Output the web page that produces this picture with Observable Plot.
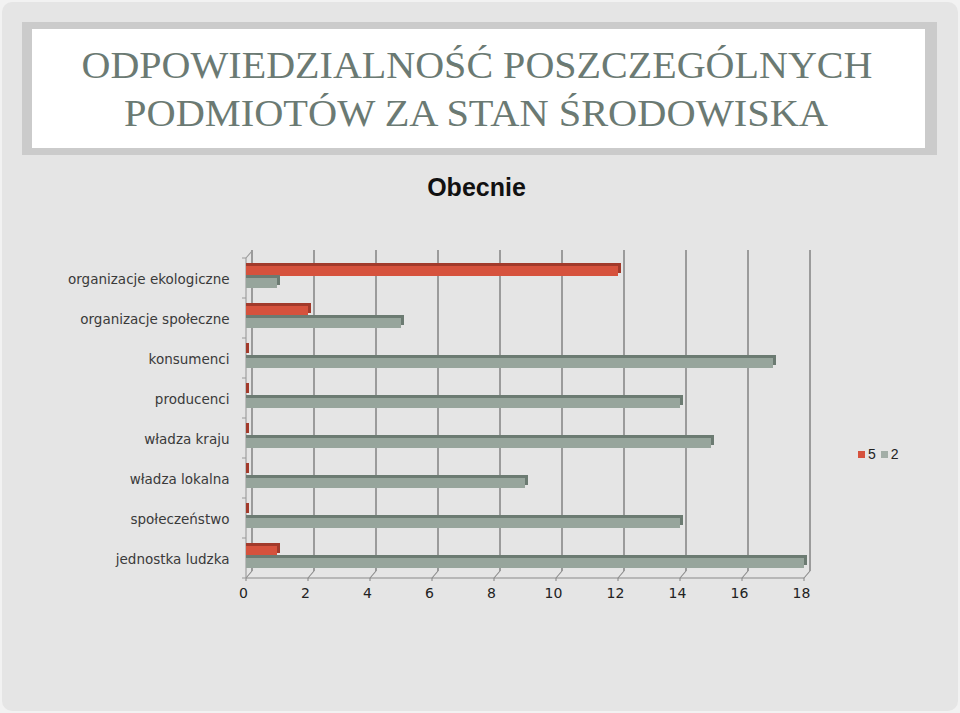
<!DOCTYPE html>
<html><head><meta charset="utf-8">
<script src="https://cdn.jsdelivr.net/npm/d3@7"></script>
<script src="https://cdn.jsdelivr.net/npm/@observablehq/plot@0.6"></script>
<style>
html,body{margin:0;padding:0;background:#f2f2f2;width:960px;height:713px;overflow:hidden}
#page{position:absolute;left:2px;top:2px;width:956px;height:709px;background:#e5e5e5;border-radius:10px}
#frame{position:absolute;left:22px;top:22px;width:915px;height:133px;background:#cbcbcb}
#inner{position:absolute;left:32px;top:29px;width:893px;height:119px;background:#fff}
#title{position:absolute;left:0;top:0}
#sub{position:absolute;left:0;width:953px;top:173px;text-align:center;font:bold 25px "Liberation Sans",Arial,sans-serif;color:#111}
#chart{position:absolute;left:0;top:240px}
#legend{position:absolute;left:858px;top:446px;font:14px "Liberation Sans",Arial,sans-serif;color:#222;display:flex;align-items:center;white-space:nowrap}
#legend .sw{display:inline-block;width:7px;height:7px;margin-right:3px}
#legend .it{display:flex;align-items:center;margin-right:5px}
</style></head>
<body>
<div id="page"></div>
<div id="frame"></div>
<div id="inner"></div>
<svg id="title" width="960" height="160">
  <text x="477" y="78" text-anchor="middle" textLength="791" lengthAdjust="spacingAndGlyphs" font-family="Liberation Serif" font-size="38" fill="#6b7a73">ODPOWIEDZIALNOŚĆ POSZCZEGÓLNYCH</text>
  <text x="476" y="126" text-anchor="middle" textLength="704" lengthAdjust="spacingAndGlyphs" font-family="Liberation Serif" font-size="38" fill="#6b7a73">PODMIOTÓW ZA STAN ŚRODOWISKA</text>
</svg>
<div id="sub">Obecnie</div>
<div id="chart"></div>
<div id="legend"></div>
<script>
const categories = ["organizacje ekologiczne","organizacje społeczne","konsumenci","producenci","władza kraju","władza lokalna","społeczeństwo","jednostka ludzka"];
const seriesNames = ["5","2"];
const redValues = [12,2,0,0,0,0,0,1];
const greyValues = [1,5,17,14,15,9,14,18];
const xTicks = [0,2,4,6,8,10,12,14,16,18];
const colors = {"5":"#d6523d","2":"#97a59c"};
const shades = {"5":"#a23a2b","2":"#6c7b72"};

const rows = [];
categories.forEach((c,i)=>{
  rows.push({cat:c, series:seriesNames[0], value:redValues[i]});
  rows.push({cat:c, series:seriesNames[1], value:greyValues[i]});
});
const red = rows.filter(d=>d.series===seriesNames[0]);
const grey = rows.filter(d=>d.series===seriesNames[1]);

const OX = 6, OY = -7;
function frame3d(index, scales, values, dims) {
  const x = scales.x;
  const top = dims.marginTop, bottom = dims.height - dims.marginBottom;
  const g = d3.create("svg:g").attr("fill","none");
  const x0 = x(0);
  for (const t of xTicks) {
    g.append("line").attr("x1",x(t)+OX).attr("x2",x(t)+OX).attr("y1",top+OY-1).attr("y2",bottom+OY)
      .attr("stroke","#7c7c7c").attr("stroke-width",1.4);
    g.append("line").attr("x1",x(t)).attr("x2",x(t)+OX).attr("y1",bottom).attr("y2",bottom+OY)
      .attr("stroke","#8a8a8a").attr("stroke-width",1.1);
    g.append("line").attr("x1",x(t)).attr("x2",x(t)).attr("y1",bottom).attr("y2",bottom+3)
      .attr("stroke","#8a8a8a").attr("stroke-width",1.1);
  }
  g.append("line").attr("x1",x0).attr("x2",x(18)).attr("y1",bottom).attr("y2",bottom)
    .attr("stroke","#8a8a8a").attr("stroke-width",1.1);
  g.append("line").attr("x1",x0).attr("x2",x0).attr("y1",top).attr("y2",bottom)
    .attr("stroke","#999").attr("stroke-width",1.1);
  g.append("line").attr("x1",x0).attr("x2",x0+OX).attr("y1",top).attr("y2",top+OY)
    .attr("stroke","#999").attr("stroke-width",1.1);
  const bw = (bottom-top)/categories.length;
  for (let i=0;i<=categories.length;i++){
    g.append("line").attr("x1",x0-4).attr("x2",x0).attr("y1",top+i*bw).attr("y2",top+i*bw)
      .attr("stroke","#999").attr("stroke-width",1);
  }
  return g.node();
}

const plot = Plot.plot({
  width: 960, height: 372,
  marginLeft: 246, marginRight: 156, marginTop: 18, marginBottom: 34,
  style: {background:"transparent", fontFamily:"DejaVu Sans", fontSize:"13px", color:"#333"},
  x: {domain:[0,18], axis:null},
  y: {domain:categories, padding:0, axis:null},
  marks: [
    frame3d,
    Plot.barX(red, {x:"value", y:"cat", fill:d=>shades[d.series], insetTop:5, insetBottom:25, insetLeft:-3, dx:3}),
    Plot.barX(red, {x:"value", y:"cat", fill:d=>colors[d.series], insetTop:8, insetBottom:22}),
    Plot.barX(grey, {x:"value", y:"cat", fill:d=>shades[d.series], insetTop:17, insetBottom:13, insetLeft:-3, dx:3}),
    Plot.barX(grey, {x:"value", y:"cat", fill:d=>colors[d.series], insetTop:20, insetBottom:10}),
    Plot.text(categories, {y:d=>d, frameAnchor:"left", textAnchor:"end", dx:-17, dy:1, fill:"#3a3a3a", fontSize:13.5, fontFamily:"DejaVu Sans"}),
    Plot.text(xTicks, {x:d=>d, frameAnchor:"bottom", dy:19, dx:-3, fill:"#222", fontSize:14, fontFamily:"DejaVu Sans"})
  ]
});
document.getElementById("chart").appendChild(plot);

const lg = document.getElementById("legend");
seriesNames.forEach(s=>{
  const it = document.createElement("span"); it.className="it";
  const sw = document.createElement("span"); sw.className="sw"; sw.style.background = s===seriesNames[0] ? "#d6523d" : "#a3aea7";
  it.appendChild(sw); it.appendChild(document.createTextNode(s));
  lg.appendChild(it);
});
</script>
</body></html>
